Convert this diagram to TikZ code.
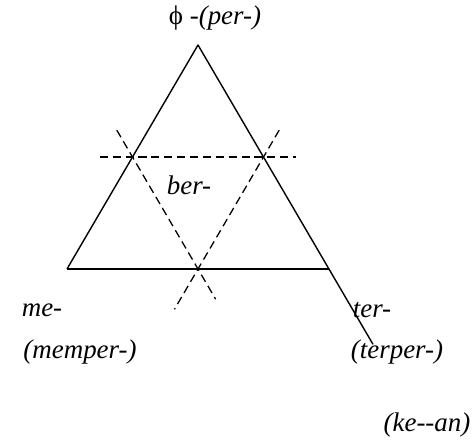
\documentclass[tikz,border=0pt]{standalone}
\usepackage{fontspec}
\setmainfont{Liberation Serif}
\usetikzlibrary{calc}
\begin{document}
\begin{tikzpicture}[line cap=butt,line join=round,
    every node/.style={font=\fontsize{23}{27}\selectfont\itshape,inner sep=1pt},
    side/.style={line width=1.2pt},
    guide/.style={line width=1.1pt,dash pattern=on 7pt off 4pt}]
  \useasboundingbox (0,0) rectangle (14.19,13.35);
  \coordinate (T) at (5.94,12.00);
  \coordinate (L) at (2.01,5.28);
  \coordinate (R) at (9.87,5.28);
  \coordinate (E) at (11.19,3.02);
  \coordinate (ML) at ($(T)!0.5!(L)$);
  \coordinate (MR) at ($(T)!0.5!(R)$);
  \coordinate (MB) at ($(L)!0.5!(R)$);
  \draw[side] (L) -- (T) -- (E);
  \draw[side] (L) -- (R);
  \draw[guide] ($(ML)!-0.25!(MR)$) -- ($(MR)!-0.25!(ML)$);
  \draw[guide] ($(ML)!-0.24!(MB)$) -- ($(ML)!1.27!(MB)$);
  \draw[guide] ($(MR)!-0.24!(MB)$) -- ($(MR)!1.36!(MB)$);
  \node (per) at (6.45,12.81) {{\upshape\char"03D5} -(per-)};
  \node (ber) at (5.67,7.80) {ber-};
  \node (me) at (1.26,4.05) {me-};
  \node (memper) at (2.40,2.79) {(memper-)};
  \node (ter) at (11.16,4.05) {ter-};
  \node (terper) at (11.91,2.79) {(terper-)};
  \node (kean) at (12.81,0.60) {(ke-{}-an)};
\end{tikzpicture}
\end{document}
